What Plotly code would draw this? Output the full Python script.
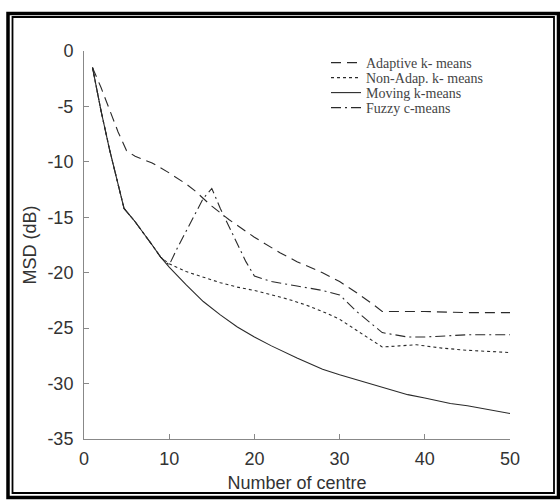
import plotly.graph_objects as go

# ---- data ----
moving_x = [1, 2, 3, 4, 4.7, 6, 7, 8, 9, 10, 12, 14, 16, 18, 20, 22, 25, 28, 30, 33, 35, 38, 40, 43, 45, 48, 50]
moving_y = [-1.5, -5.4, -8.9, -12.1, -14.2, -15.4, -16.4, -17.5, -18.6, -19.5, -21.1, -22.6, -23.8, -24.9, -25.8, -26.6, -27.7, -28.7, -29.2, -29.9, -30.3, -31.0, -31.3, -31.8, -32.0, -32.4, -32.7]

adaptive_x = [1, 2, 3, 4, 5, 6, 8, 10, 12, 13, 15, 17, 20, 23, 25, 28, 30, 32, 34, 35, 40, 45, 50]
adaptive_y = [-1.5, -3.3, -5.3, -7.3, -9.0, -9.5, -10.1, -11.0, -12.0, -12.6, -14.0, -15.2, -16.8, -18.2, -19.0, -20.0, -20.8, -21.8, -22.9, -23.5, -23.5, -23.6, -23.6]

nonadap_x = [1, 2, 3, 4, 4.7, 6, 7, 8, 9, 10, 12, 14, 16, 18, 20, 22, 24, 26, 28, 30, 32, 34, 35, 37, 39, 42, 45, 50]
nonadap_y = [-1.5, -5.4, -8.9, -12.1, -14.2, -15.4, -16.4, -17.5, -18.6, -19.2, -19.9, -20.4, -20.9, -21.3, -21.6, -22.0, -22.4, -22.9, -23.5, -24.2, -25.2, -26.2, -26.7, -26.6, -26.5, -26.8, -27.0, -27.2]

fuzzy_x = [1, 2, 3, 4, 4.7, 6, 7, 8, 9, 10, 11, 12, 13, 14, 15, 16, 17, 18, 19, 20, 22, 25, 28, 30, 32, 35, 38, 40, 45, 50]
fuzzy_y = [-1.5, -5.4, -8.9, -12.1, -14.2, -15.4, -16.4, -17.5, -18.6, -19.3, -17.7, -16.2, -14.8, -13.3, -12.4, -14.2, -15.8, -17.4, -19.0, -20.3, -20.8, -21.2, -21.6, -22.0, -23.5, -25.4, -25.8, -25.8, -25.6, -25.6]

x_ticks = [0, 10, 20, 30, 40, 50]
y_ticks = [0, -5, -10, -15, -20, -25, -30, -35]

series = [
    ("Adaptive k- means", adaptive_x, adaptive_y, "10px,6px"),
    ("Non-Adap. k- means", nonadap_x, nonadap_y, "3px,3px"),
    ("Moving k-means", moving_x, moving_y, "solid"),
    ("Fuzzy c-means", fuzzy_x, fuzzy_y, "10px,4px,2px,4px"),
]

# plot area in pixels: x 84..510, y 51..439
L, R, T, B = 84, 50, 51, 61
W, H = 560, 500
pw, ph = W - L - R, H - T - B

def px(x):
    return (x - L) / pw

def py(y):
    return (H - B - y) / ph

legend_names = ["legend", "legend2", "legend3", "legend4"]
legend_rows = [63, 78, 93, 108]

fig = go.Figure()
for (name, xs, ys, dash), lg in zip(series, legend_names):
    fig.add_trace(go.Scatter(
        x=xs, y=ys, mode="lines", name=name, legend=lg,
        line=dict(color="#2a2a2a", width=1.1, dash=dash),
    ))

shapes = [
    dict(type="rect", xref="paper", yref="paper",
         x0=px(8), x1=px(558.5), y0=py(13.5), y1=py(497.5),
         line=dict(color="black", width=3.5), fillcolor="rgba(0,0,0,0)", layer="above"),
    dict(type="rect", xref="paper", yref="paper",
         x0=px(12.5), x1=px(554), y0=py(17), y1=py(493),
         line=dict(color="black", width=1.8), fillcolor="rgba(0,0,0,0)", layer="above"),
]

axis_font = dict(family="Liberation Sans, Arial, sans-serif", size=18, color="#333")
legend_font = dict(family="Liberation Serif, Times New Roman, serif", size=14, color="#444")

legends = {}
for lg, row in zip(legend_names, legend_rows):
    legends[lg] = dict(
        x=px(326), y=py(row), xanchor="left", yanchor="middle",
        bgcolor="rgba(0,0,0,0)", borderwidth=0,
        font=legend_font, itemwidth=30,
    )

fig.update_layout(
    width=W, height=H,
    margin=dict(l=L, r=R, t=T, b=B),
    paper_bgcolor="white", plot_bgcolor="white",
    shapes=shapes,
    showlegend=True,
    **legends,
    xaxis=dict(
        range=[0, 50], tickvals=x_ticks, ticktext=[str(v) for v in x_ticks],
        showgrid=False, zeroline=False, showline=True, linecolor="#888", linewidth=1,
        ticks="inside", ticklen=5, tickcolor="#888", mirror=False,
        tickfont=axis_font, ticklabelstandoff=3,
        title=dict(text="Number of centre", font=axis_font, standoff=8),
    ),
    yaxis=dict(
        range=[-35, 0], tickvals=y_ticks, ticktext=[str(v) for v in y_ticks],
        showgrid=False, zeroline=False, showline=True, linecolor="#888", linewidth=1,
        ticks="inside", ticklen=5, tickcolor="#888", mirror=False,
        tickfont=axis_font, ticklabelstandoff=6,
        title=dict(text="MSD (dB)", font=axis_font, standoff=6),
    ),
)

fig.write_html("out.html")
